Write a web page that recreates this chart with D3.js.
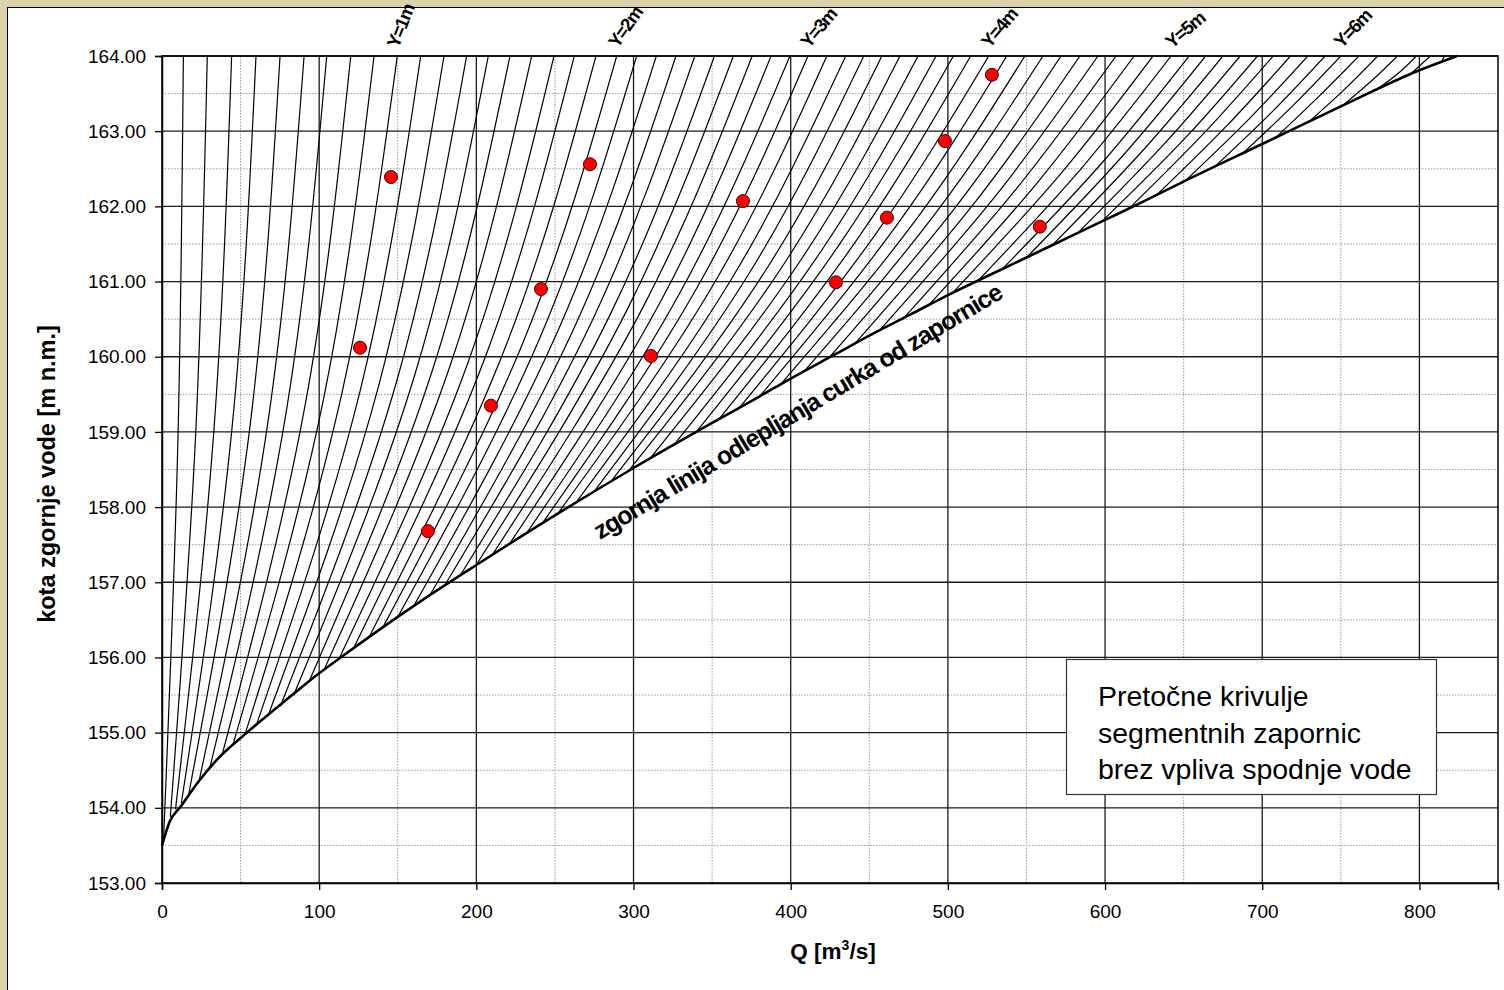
<!doctype html>
<html>
<head>
<script src="https://d3js.org/d3.v7.min.js"></script>
<style>
body { margin: 0; background: #dcd3ad; }
svg { display: block; font-family: "Liberation Sans", Arial, sans-serif; }
</style>
</head>
<body>
<svg width="1504" height="990"></svg>
<script>
// gate openings Y [m], one curve each
var gateOpening = [
  0.1, 0.2, 0.3, 0.4, 0.5, 0.6, 0.7, 0.8, 0.9, 1.0,
  1.1, 1.2, 1.3, 1.4, 1.5, 1.6, 1.7, 1.8, 1.9, 2.0,
  2.1, 2.2, 2.3, 2.4, 2.5, 2.6, 2.7, 2.8, 2.9, 3.0,
  3.1, 3.2, 3.3, 3.4, 3.5, 3.6, 3.7, 3.8, 3.9, 4.0,
  4.1, 4.2, 4.3, 4.4, 4.5, 4.6, 4.7, 4.8, 4.9, 5.0,
  5.1, 5.2, 5.3, 5.4, 5.5, 5.6, 5.7, 5.8, 5.9, 6.0,
  6.1, 6.2, 6.3, 6.4, 6.5, 6.6];
// Q where each curve reaches the top of the chart (164.00)
var hTop = 164;
var qTop = [
  13.6, 28.8, 44.3, 59.8, 75.1, 90.4, 104.8, 120.1, 134.9, 149.7,
  164.6, 179.4, 193.8, 207.6, 221.4, 235.2, 249.4, 262.3, 276.1, 289.3,
  302, 314.5, 327, 339, 351.5, 363.5, 375.5, 387.5, 399.5, 411,
  423, 435, 446.5, 458, 469.5, 481, 492.5, 503.5, 514.5, 526,
  537.5, 549, 560.5, 572, 584, 595.5, 607, 618.5, 630.5, 642,
  653.5, 664, 675, 686, 697, 707, 718, 729, 740, 750,
  761.5, 773.5, 786, 798, 807, 816];
// a point half way up each curve
var qMid = [
  10.0, 21.3, 32.8, 44.3, 55.9, 67.6, 78.9, 91.0, 102.6, 114.3,
  126.1, 137.8, 149.4, 160.7, 172.5, 184.1, 196.0, 207.0, 218.7, 229.9,
  241.0, 252.2, 263.2, 273.9, 284.9, 295.8, 306.8, 317.9, 329.0, 339.9,
  351.1, 362.5, 373.6, 384.7, 395.9, 407.5, 419.5, 430.9, 442.6, 454.7,
  467.1, 479.6, 492.2, 504.9, 518.2, 531.1, 544.2, 557.5, 571.2, 584.7,
  598.1, 610.7, 623.9, 637.2, 650.6, 663.7, 677.8, 692.0, 706.4, 720.0,
  735.9, 752.5, 769.6, 786.6, 800.7, 815.0];
var hMid = [
  158.79, 158.92, 158.96, 159.00, 159.06, 159.16, 159.25, 159.35, 159.42, 159.50,
  159.55, 159.61, 159.68, 159.75, 159.85, 159.93, 160.00, 160.07, 160.14, 160.20,
  160.28, 160.36, 160.43, 160.49, 160.55, 160.62, 160.69, 160.76, 160.83, 160.90,
  160.97, 161.04, 161.11, 161.17, 161.24, 161.32, 161.41, 161.49, 161.57, 161.65,
  161.74, 161.82, 161.91, 161.99, 162.08, 162.16, 162.25, 162.33, 162.42, 162.50,
  162.58, 162.66, 162.74, 162.82, 162.90, 162.99, 163.08, 163.17, 163.26, 163.35,
  163.46, 163.56, 163.67, 163.77, 163.88, 163.96];
// where each curve starts on the jet separation line
var qBottom = [
  1.0, 5.3, 8.6, 12.3, 16.9, 23.4, 30.3, 38.3, 45.3, 53.0,
  60.0, 67.4, 75.3, 83.8, 94.0, 103.4, 112.8, 121.8, 131.5, 140.0,
  149.8, 160.3, 170.5, 180.2, 190.0, 200.2, 210.6, 221.4, 232.2, 242.5,
  252.4, 263.7, 275.0, 285.9, 296.8, 310.3, 325.0, 338.8, 353.2, 366.1,
  379.8, 393.5, 408.3, 424.1, 439.8, 455.6, 471.3, 487.1, 503.0, 519.6,
  535.3, 551.0, 566.7, 582.4, 598.0, 615.7, 633.3, 651.1, 669.4, 687.8,
  708.8, 729.4, 750.0, 771.9, 793.8, 814.0];
var hBottom = [
  153.58, 153.88, 153.98, 154.06, 154.17, 154.34, 154.52, 154.71, 154.85, 154.99,
  155.10, 155.22, 155.35, 155.50, 155.70, 155.85, 155.99, 156.12, 156.26, 156.38,
  156.53, 156.69, 156.83, 156.97, 157.10, 157.24, 157.38, 157.52, 157.66, 157.80,
  157.93, 158.07, 158.21, 158.35, 158.48, 158.64, 158.81, 158.97, 159.14, 159.29,
  159.46, 159.63, 159.80, 159.98, 160.15, 160.33, 160.50, 160.67, 160.85, 161.02,
  161.18, 161.34, 161.49, 161.64, 161.80, 161.98, 162.16, 162.34, 162.52, 162.71,
  162.92, 163.12, 163.32, 163.54, 163.75, 163.92];

// zgornja linija odlepljanja curka od zapornice
var envQ = [0, 5, 12, 24, 35, 54, 81, 100, 113, 164, 200, 250, 300, 350, 380, 400, 429, 450, 476, 501, 533, 552, 580, 600, 622, 648, 700, 749, 800, 824];
var envH = [153.5, 153.82, 154.02, 154.37, 154.64, 155.0, 155.47, 155.79, 155.99, 156.74, 157.23, 157.89, 158.52, 159.12, 159.47, 159.71, 160.04, 160.28, 160.56, 160.83, 161.15, 161.34, 161.62, 161.82, 162.04, 162.31, 162.83, 163.32, 163.81, 164.0];

// red points
var pointQ = [126.0, 145.7, 169.2, 209.3, 241.1, 272.3, 311.1, 369.6, 428.8, 461.2, 498.1, 528.0, 558.5];
var pointH = [160.12, 162.39, 157.68, 159.35, 160.90, 162.56, 160.01, 162.07, 160.99, 161.85, 162.87, 163.75, 161.73];

// opening labels above the plot
var labelText = ["Y=1m", "Y=2m", "Y=3m", "Y=4m", "Y=5m", "Y=6m"];
var labelQ = [149.7, 289.3, 411, 526, 642, 750];
var labelAngle = [-68, -55, -50, -50, -40, -46];

var xTicks = [0, 100, 200, 300, 400, 500, 600, 700, 800];
var yTicks = [153, 154, 155, 156, 157, 158, 159, 160, 161, 162, 163, 164];
var legendLines = ["Pretočne krivulje", "segmentnih zapornic", "brez vpliva spodnje vode"];

var svg = d3.select("svg");
var pLeft = 162, pRight = 1498, pTop = 56, pBottom = 883;

var x = d3.scaleLinear().domain([0, 850]).range([pLeft, pRight]);
var y = d3.scaleLinear().domain([153, 164]).range([pBottom, pTop]);

// white panel
svg.append("rect")
  .attr("x", 7.5).attr("y", 7.5)
  .attr("width", 1510).attr("height", 1000)
  .attr("fill", "#fff").attr("stroke", "#000").attr("stroke-width", 1);

svg.append("clipPath").attr("id", "plot")
  .append("rect")
  .attr("x", pLeft).attr("y", pTop)
  .attr("width", pRight - pLeft).attr("height", pBottom - pTop);

// grid
var grid = svg.append("g");
grid.selectAll(".vminor")
  .data(d3.range(50, 850, 100))
  .enter().append("line")
  .attr("x1", d => x(d)).attr("x2", d => x(d))
  .attr("y1", pTop).attr("y2", pBottom)
  .attr("stroke", "#9a9a9a").attr("stroke-dasharray", "1.5,1.5");
grid.selectAll(".hminor")
  .data(d3.range(153.5, 164, 1))
  .enter().append("line")
  .attr("x1", pLeft).attr("x2", pRight)
  .attr("y1", d => y(d)).attr("y2", d => y(d))
  .attr("stroke", "#9a9a9a").attr("stroke-dasharray", "1.5,1.5");
grid.selectAll(".vmajor")
  .data(xTicks.slice(1))
  .enter().append("line")
  .attr("x1", d => x(d)).attr("x2", d => x(d))
  .attr("y1", pTop).attr("y2", pBottom)
  .attr("stroke", "#1a1a1a").attr("stroke-width", 1.3);
grid.selectAll(".hmajor")
  .data(yTicks.slice(1))
  .enter().append("line")
  .attr("x1", pLeft).attr("x2", pRight)
  .attr("y1", d => y(d)).attr("y2", d => y(d))
  .attr("stroke", "#1a1a1a").attr("stroke-width", 1.3);

// discharge curves
var line = d3.line()
  .x(d => x(d[0]))
  .y(d => y(d[1]))
  .curve(d3.curveNatural);

var curves = gateOpening.map(function (a, i) {
  return [[qBottom[i], hBottom[i]], [qMid[i], hMid[i]], [qTop[i], hTop]];
});

svg.append("g")
  .attr("clip-path", "url(#plot)")
  .selectAll("path")
  .data(curves)
  .enter().append("path")
  .attr("d", line)
  .attr("fill", "none")
  .attr("stroke", "#000")
  .attr("stroke-width", 1.2);

// envelope
var envelope = envQ.map((q, i) => [q, envH[i]]);
svg.append("path")
  .datum(envelope)
  .attr("d", d3.line().x(d => x(d[0])).y(d => y(d[1])).curve(d3.curveMonotoneX))
  .attr("fill", "none")
  .attr("stroke", "#000")
  .attr("stroke-width", 2.6);

// plot border
svg.append("rect")
  .attr("x", pLeft).attr("y", pTop)
  .attr("width", pRight - pLeft).attr("height", pBottom - pTop)
  .attr("fill", "none").attr("stroke", "#000").attr("stroke-width", 1.5);

// axes
var yAxis = svg.append("g")
  .attr("transform", "translate(" + pLeft + ",0)")
  .call(d3.axisLeft(y).tickValues(yTicks).tickFormat(d3.format(".2f")).tickSize(7).tickPadding(9));
var xAxis = svg.append("g")
  .attr("transform", "translate(0," + pBottom + ")")
  .call(d3.axisBottom(x).tickValues(xTicks).tickSize(7).tickPadding(15));
[xAxis, yAxis].forEach(function (g) {
  g.select(".domain").attr("stroke", "#000").attr("stroke-width", 1.5);
  g.selectAll(".tick line").attr("stroke", "#000").attr("stroke-width", 1.3);
  g.selectAll("text")
    .style("font-family", "'Liberation Sans', Arial, sans-serif")
    .style("font-size", "19px")
    .attr("fill", "#000");
});

// axis titles
var xTitle = svg.append("text")
  .attr("x", 833).attr("y", 959)
  .attr("text-anchor", "middle")
  .style("font-size", "22.5px").style("font-weight", "bold");
xTitle.append("tspan").text("Q [m");
xTitle.append("tspan").attr("dy", -9).style("font-size", "14px").text("3");
xTitle.append("tspan").attr("dy", 9).text("/s]");

svg.append("text")
  .attr("transform", "translate(55,474)rotate(-90)")
  .attr("text-anchor", "middle")
  .style("font-size", "23.5px").style("font-weight", "bold")
  .text("kota zgornje vode [m n.m.]");

// opening labels
svg.selectAll(".ylab")
  .data(labelText)
  .enter().append("text")
  .attr("transform", (d, i) => "translate(" + (x(labelQ[i]) + 1) + "," + (pTop - 7) + ")rotate(" + labelAngle[i] + ")")
  .style("font-size", "18.5px").style("font-weight", "bold")
  .style("letter-spacing", "-1.3px")
  .text(d => d);

// separation line label
svg.append("text")
  .attr("transform", "translate(600,540)rotate(-31)")
  .style("font-size", "25px").style("font-weight", "bold")
  .style("letter-spacing", "-1.2px")
  .text("zgornja linija odlepljanja curka od zapornice");

// points
svg.append("g")
  .selectAll("circle")
  .data(pointQ)
  .enter().append("circle")
  .attr("cx", d => x(d))
  .attr("cy", (d, i) => y(pointH[i]))
  .attr("r", 6.5)
  .attr("fill", "#ff0000")
  .attr("stroke", "#3a0000")
  .attr("stroke-width", 1);

// note box
svg.append("rect")
  .attr("x", 1066.5).attr("y", 659.5)
  .attr("width", 370).attr("height", 135)
  .attr("fill", "#fff").attr("stroke", "#333").attr("stroke-width", 1.2);
svg.selectAll(".note")
  .data(legendLines)
  .enter().append("text")
  .attr("x", 1098)
  .attr("y", (d, i) => 706 + i * 36.5)
  .style("font-size", "28.5px")
  .text(d => d);
</script>
</body>
</html>
